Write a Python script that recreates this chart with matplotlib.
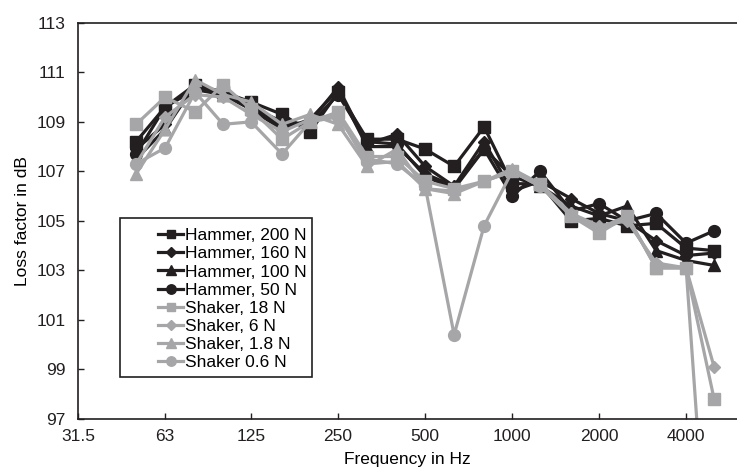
import numpy as np
import matplotlib
matplotlib.use("Agg")
import matplotlib.pyplot as plt
from matplotlib.patches import Rectangle

plt.rcParams['font.family'] = ['Liberation Sans', 'DejaVu Sans']

# third-octave band centre frequencies (Hz)
freqs = [50, 63, 80, 100, 125, 160, 200, 250, 315, 400, 500, 630, 800,
         1000, 1250, 1600, 2000, 2500, 3150, 4000, 5000]

hammer_200 = [108.2, 109.6, 110.5, 110.2, 109.8, 109.3, 108.6, 110.2, 108.3, 108.3, 107.9,
              107.2, 108.8, 106.5, 106.5, 105.0, 105.1, 104.8, 104.9, 103.9, 103.8]
hammer_160 = [107.9, 108.9, 110.4, 110.2, 109.6, 108.8, 109.0, 110.4, 108.1, 108.5, 107.2,
              106.4, 108.2, 106.2, 106.6, 105.9, 105.3, 105.0, 104.2, 103.6, 103.7]
hammer_100 = [107.5, 108.7, 110.5, 110.1, 109.5, 108.7, 109.1, 110.3, 108.0, 108.0, 106.9,
              106.4, 107.9, 106.8, 106.4, 105.6, 105.2, 105.6, 103.8, 103.4, 103.2]
hammer_50 = [107.7, 109.6, 110.3, 110.1, 109.6, 109.0, 108.9, 110.1, 108.2, 108.1, 106.8,
             106.3, 107.9, 106.0, 107.0, 105.4, 105.7, 105.0, 105.3, 104.1, 104.6]
shaker_18 = [108.9, 110.0, 109.4, 110.5, 109.5, 108.3, 109.0, 109.4, 107.6, 107.6, 106.6,
             106.3, 106.6, 107.0, 106.5, 105.2, 104.5, 105.2, 103.1, 103.1, 97.8]
shaker_6 = [107.3, 109.2, 110.1, 110.0, 109.3, 108.6, 109.1, 109.3, 107.3, 107.4, 106.3,
            106.2, 106.6, 107.0, 106.4, 105.3, 104.8, 105.0, 103.3, 103.1, 99.1]
shaker_1_8 = [106.9, 108.7, 110.7, 110.1, 109.8, 108.9, 109.3, 108.9, 107.2, 107.9, 106.3,
              106.1, 106.6, 107.1, 106.5, 105.3, 104.7, 105.2, 103.1, 103.1, np.nan]
shaker_0_6 = [107.3, 107.95, 110.2, 108.9, 109.0, 107.7, 109.0, 109.2, 107.5, 107.3, 106.4,
              100.4, 104.8, 107.0, 106.4, 105.2, 104.6, 105.1, 103.2, 103.1, 87.0]

xticks = [31.5, 63, 125, 250, 500, 1000, 2000, 4000]
xticklabels = ["31.5", "63", "125", "250", "500", "1000", "2000", "4000"]
yticks = [97, 99, 101, 103, 105, 107, 109, 111, 113]

black = "#231f20"
gray = "#a6a6a8"

fig = plt.figure(figsize=(7.37, 4.75), dpi=100)
ax = fig.add_axes([0.106, 0.118, 0.894, 0.834])

series = [
    (hammer_200, "Hammer, 200 N", black, "s", 8),
    (hammer_160, "Hammer, 160 N", black, "D", 6),
    (hammer_100, "Hammer, 100 N", black, "^", 9),
    (hammer_50, "Hammer, 50 N", black, "o", 8.5),
    (shaker_18, "Shaker, 18 N", gray, "s", 8),
    (shaker_6, "Shaker, 6 N", gray, "D", 6),
    (shaker_1_8, "Shaker, 1.8 N", gray, "^", 9),
    (shaker_0_6, "Shaker 0.6 N", gray, "o", 8.5),
]
for vals, lab, col, mk, ms in series:
    ax.plot(freqs, vals, color=col, marker=mk, markersize=ms, linewidth=2.3,
            label=lab, clip_on=True)

ax.set_xscale("log")
ax.set_xlim(31.5, 6000)
ax.set_ylim(97, 113)
ax.set_xticks(xticks)
ax.set_xticklabels(xticklabels)
ax.minorticks_off()
ax.set_yticks(yticks)
ax.tick_params(direction="in", length=4, width=1, labelsize=12.5, colors=black)
ax.tick_params(axis="x", pad=7)
ax.tick_params(axis="y", pad=9)
ax.spines["right"].set_visible(False)
for s in ["left", "top", "bottom"]:
    ax.spines[s].set_linewidth(1.2)
    ax.spines[s].set_color(black)

ax.set_xlabel("Frequency in Hz", fontsize=12.5, labelpad=6)
ax.set_ylabel("Loss factor in dB", fontsize=12.5, labelpad=5)

# legend frame drawn separately
fig.patches.append(Rectangle((120 / 737, 1 - 377 / 475), 192 / 737, 159 / 475,
                             transform=fig.transFigure, fill=True, facecolor="white",
                             edgecolor=black, linewidth=1.2, zorder=5))
leg = fig.legend(loc="upper left", bbox_to_anchor=(146 / 737, 1 - 216 / 475),
                 frameon=False, fontsize=12.5, handlelength=1.45, handletextpad=0.1,
                 labelspacing=0.17, borderpad=0.2, markerscale=0.8)
leg.set_zorder(6)

fig.savefig("out.png", dpi=100)
